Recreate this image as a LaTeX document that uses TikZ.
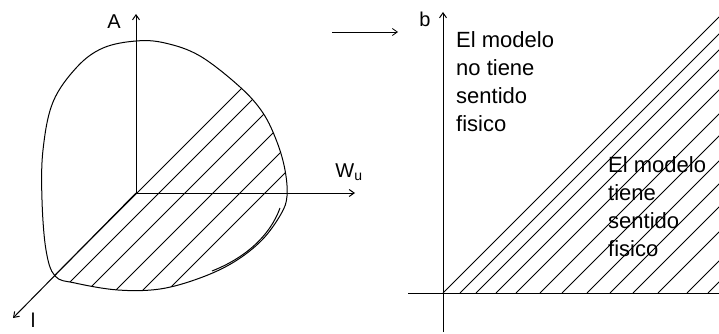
\documentclass[tikz,border=0pt]{standalone}
\usepackage{fontspec}
\setsansfont{Liberation Sans}
\usetikzlibrary{arrows.meta}

\begin{document}
\begin{tikzpicture}[
    x=1pt, y=-1pt,
    axis/.style={-{Straight Barb[length=5pt, width=7pt]}, line width=1pt},
    outline/.style={line width=1pt},
    hatch/.style={line width=1pt},
    lbl/.style={font=\sffamily\fontsize{20}{22}\selectfont, inner sep=0pt},
    note/.style={font=\sffamily\fontsize{22}{28}\selectfont, align=left, inner sep=0pt, anchor=north west},
]
\useasboundingbox (0,0) rectangle (719,334);

% left figure: space (A, W_u, l)
\coordinate (O) at (136,193);
\coordinate (Atip) at (136,14);
\coordinate (Wtip) at (355,193);
\coordinate (ltip) at (13,318);

\def\blob{plot[smooth cycle, tension=0.6] coordinates {(136,41) (165,43) (200,56) (240,87) (263,113) (277,142) (285,170) (287,196) (281,214) (262,240) (234,262) (200,278) (160,289) (118,290) (75,283) (55,276) (46,250) (42,200) (43,150) (53,102) (77,67) (103,48)}}

\begin{scope}
\clip \blob;
\foreach \hc in {330,352,378,406,433,458}
    \draw[hatch] (\hc-330,330) -- (\hc,0);
\end{scope}
\draw[outline] \blob;
\draw[outline] (280,208) .. controls (270,236) and (245,258) .. (212,271);

\draw[axis] (O) -- (Atip);
\draw[axis] (O) -- (Wtip);
\draw[axis] (O) -- (ltip);

\node[lbl] (labA) at (114,22) {A};
\node[lbl] (labW) at (349,172) {W\textsubscript{u}};
\node[lbl] (labl) at (33,320) {l};

% transition arrow
\coordinate (ms) at (332,32);
\coordinate (me) at (398,32);
\draw[axis, line width=0.8pt] (ms) -- (me);

% right figure: plane b
\coordinate (O2) at (443,293);
\coordinate (btip) at (443,12);
\coordinate (bbot) at (443,332);
\coordinate (hl) at (408,293);
\coordinate (hr) at (719,293);
\coordinate (edge) at (719,17);

\begin{scope}
\clip (443,0) rectangle (719,293);
\foreach \hc in {753,769,789,809,833,855,880,903,926,951,980,1001}
    \draw[hatch] (\hc-293,293) -- (\hc,0);
\end{scope}
\draw[hatch] (O2) -- (edge);
\draw[outline] (hl) -- (hr);
\draw[axis] (bbot) -- (btip);

\node[lbl] (labb) at (425,19) {b};

\node[note] (nofis) at (456,31) {El modelo\\no tiene\\sentido\\fisico};
\node[note] (sifis) at (608,156) {El modelo\\tiene\\sentido\\fisico};

\end{tikzpicture}
\end{document}
